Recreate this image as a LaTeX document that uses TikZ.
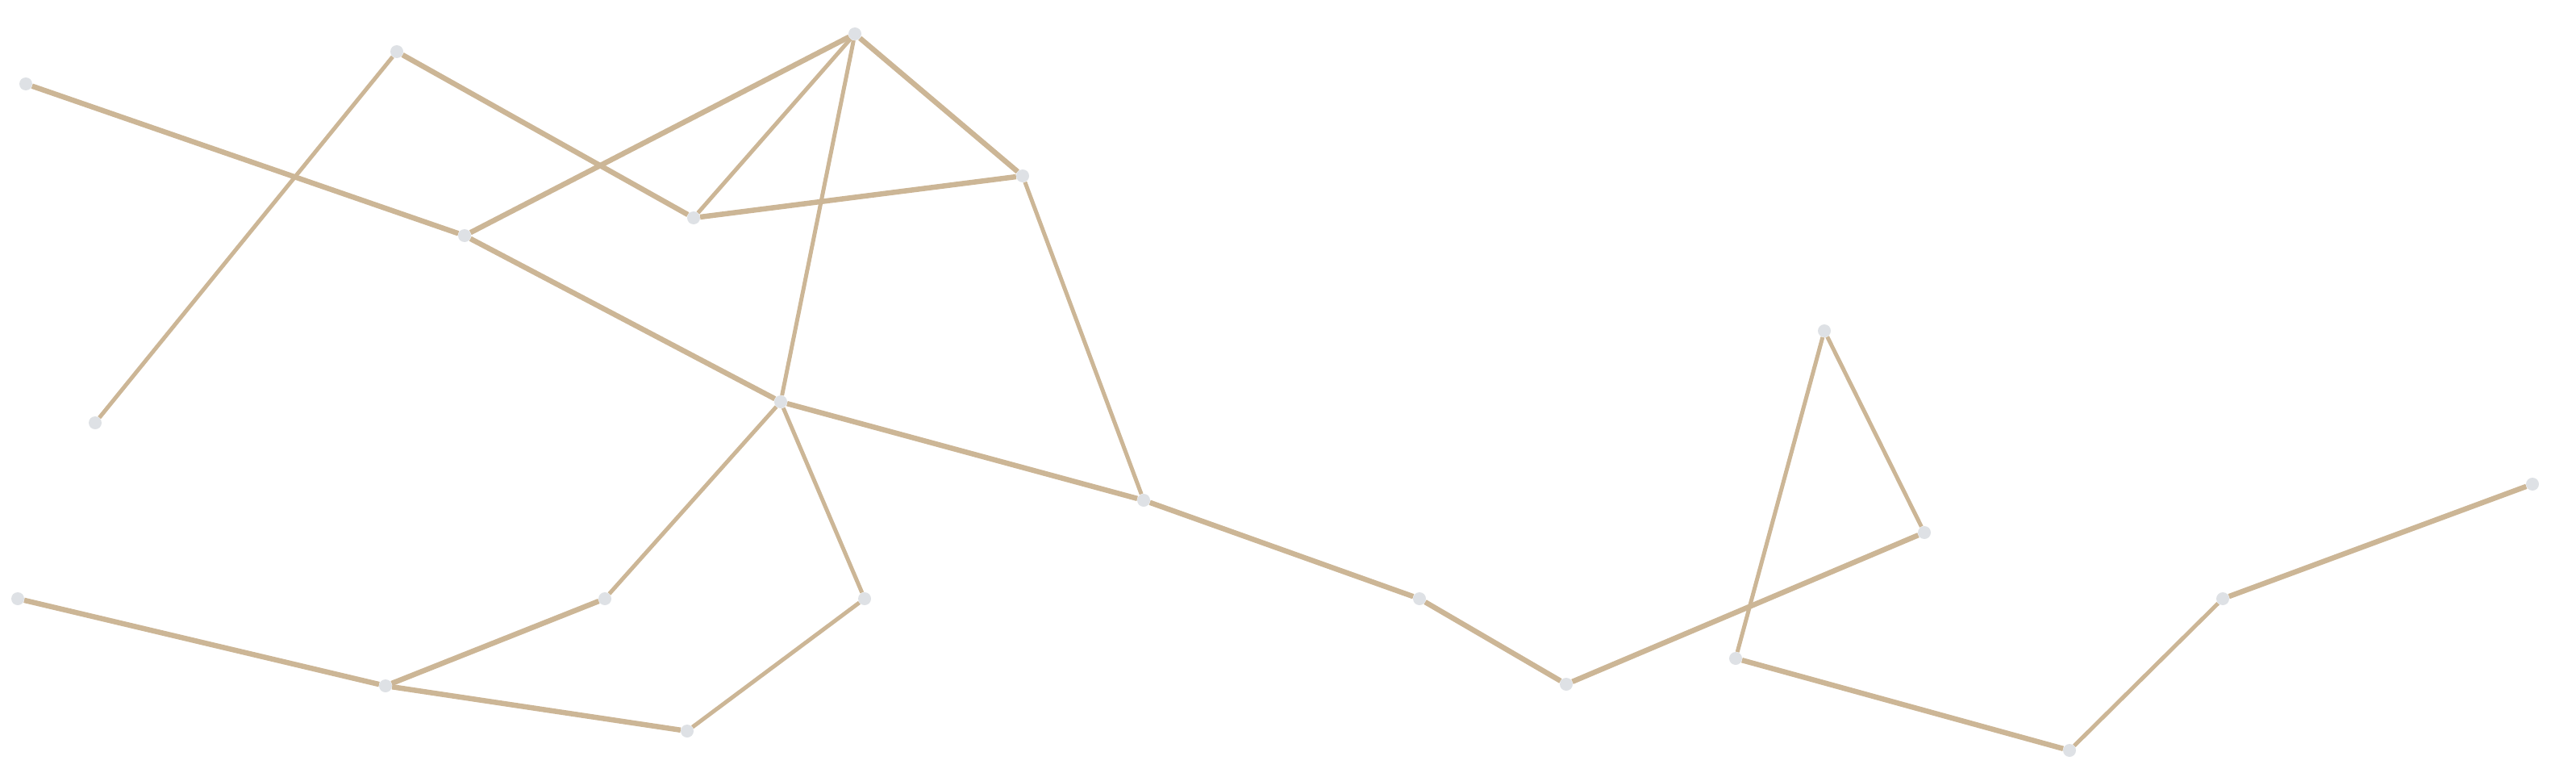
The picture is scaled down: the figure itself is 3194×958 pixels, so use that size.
\documentclass[tikz,border=0pt]{standalone}
\usetikzlibrary{backgrounds}
\definecolor{edgecol}{RGB}{204,182,150}
\definecolor{nodecol}{RGB}{222,225,229}
\tikzset{
  vtx/.style={circle,fill=nodecol,draw=none,minimum size=16pt,inner sep=0pt},
  thick edge/.style={draw=edgecol,line width=6.5pt},
  thin edge/.style={draw=edgecol,line width=5pt},
}
\begin{document}
\begin{tikzpicture}[x=1pt,y=-1pt]
\useasboundingbox (0,0) rectangle (3194,958);
\node[vtx] (A) at (32,104) {};
\node[vtx] (B) at (492,64) {};
\node[vtx] (C) at (1060,42) {};
\node[vtx] (D) at (1268,218) {};
\node[vtx] (E) at (860,270) {};
\node[vtx] (F) at (576,292) {};
\node[vtx] (G) at (118,524) {};
\node[vtx] (H) at (968,498) {};
\node[vtx] (I) at (1418,620) {};
\node[vtx] (J) at (750,742) {};
\node[vtx] (K) at (1072,742) {};
\node[vtx] (L) at (22,742) {};
\node[vtx] (M) at (478,850) {};
\node[vtx] (N) at (852,906) {};
\node[vtx] (O) at (1760,742) {};
\node[vtx] (P) at (1942,848) {};
\node[vtx] (Q) at (2262,410) {};
\node[vtx] (R) at (2386,660) {};
\node[vtx] (S) at (2152,816) {};
\node[vtx] (T) at (2566,930) {};
\node[vtx] (U) at (2756,742) {};
\node[vtx] (V) at (3140,600) {};
\begin{scope}[on background layer]
\draw[thick edge] (A) -- (F);
\draw[thick edge] (F) -- (H);
\draw[thin edge] (B) -- (G);
\draw[thick edge] (B) -- (E);
\draw[thick edge] (F) -- (C);
\draw[thin edge] (E) -- (C);
\draw[thick edge] (E) -- (D);
\draw[thick edge] (C) -- (D);
\draw[thin edge] (C) -- (H);
\draw[thin edge] (D) -- (I);
\draw[thick edge] (H) -- (I);
\draw[thin edge] (H) -- (J);
\draw[thin edge] (H) -- (K);
\draw[thick edge] (J) -- (M);
\draw[thick edge] (L) -- (M);
\draw[thick edge] (M) -- (N);
\draw[thin edge] (N) -- (K);
\draw[thick edge] (I) -- (O);
\draw[thick edge] (O) -- (P);
\draw[thick edge] (P) -- (R);
\draw[thin edge] (R) -- (Q);
\draw[thin edge] (Q) -- (S);
\draw[thick edge] (S) -- (T);
\draw[thin edge] (T) -- (U);
\draw[thick edge] (U) -- (V);
\end{scope}
\end{tikzpicture}
\end{document}
